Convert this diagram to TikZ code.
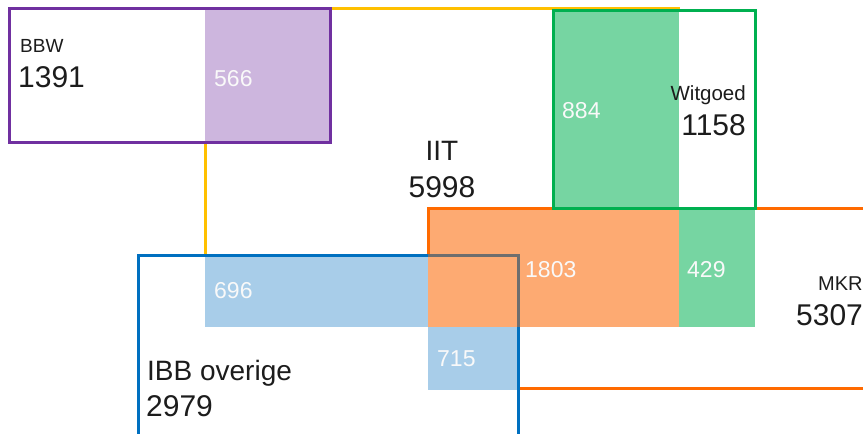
\documentclass[tikz,border=0pt]{standalone}
\usepackage{fontspec}
\setmainfont{Liberation Sans}
\definecolor{cPurple}{HTML}{7030A0}
\definecolor{cPurpleF}{HTML}{CDB6DE}
\definecolor{cYellow}{HTML}{FFC000}
\definecolor{cGreen}{HTML}{00B050}
\definecolor{cGreenF}{HTML}{76D5A2}
\definecolor{cOrange}{HTML}{FF6A00}
\definecolor{cOrangeF}{HTML}{FDAA72}
\definecolor{cBlue}{HTML}{0070C0}
\definecolor{cBlueF}{HTML}{A8CDE9}
\definecolor{cGray}{HTML}{6E6E6E}
\definecolor{cText}{HTML}{1C1C1C}
\tikzset{
  edge/.style={line width=3pt},
  lbl/.style={inner sep=0pt, text=cText, font=\fontsize{19}{19}\selectfont},
  big/.style={inner sep=0pt, text=cText, font=\fontsize{30}{30}\selectfont},
  mid/.style={inner sep=0pt, text=cText, font=\fontsize{28}{28}\selectfont},
  val/.style={inner sep=0pt, text=white!95!gray, font=\fontsize{23}{23}\selectfont, anchor=base west},
}
\begin{document}
\begin{tikzpicture}[x=1pt,y=-1pt]
\useasboundingbox (0,0) rectangle (863,434);
\clip (0,0) rectangle (863,434);
% yellow IIT outline (visible parts)
\draw[edge, cYellow] (330,8) -- (680,8);
\draw[edge, cYellow] (205,143) -- (205,255);
% fills
\fill[cPurpleF] (205,10) rectangle (329,141);
\fill[cGreenF] (553,10) rectangle (679,208);
\fill[cOrangeF] (428,208) rectangle (679,327);
\fill[cGreenF] (679,208) rectangle (755,327);
\fill[cBlueF] (205,255) rectangle (428,327);
\fill[cBlueF] (428,327) rectangle (518,390);
% orange MKR outline
\draw[edge, cOrange] (880,208) -- (428,208) -- (428,255);
\draw[edge, cOrange] (518,388.5) -- (880,388.5);
% green Witgoed outline
\draw[edge, cGreen] (553.5,10) rectangle (755,208);
% purple BBW outline
\draw[edge, cPurple] (9.5,8.5) rectangle (330,142.5);
% blue IBB outline
\draw[edge, cBlue] (138.5,450) -- (138.5,255) -- (428,255);
\draw[edge, cGray] (428,255) -- (518,255) -- (518,327);
\draw[edge, cBlue] (518,327) -- (518,450);
% texts
\node[lbl, anchor=base west] (bbw) at (20,52) {BBW};
\node[big, anchor=base west] (bbwn) at (18,87) {1391};
\node[val] (v566) at (214,86) {566};
\node[val] (v884) at (562,118) {884};
\node[lbl, anchor=base east, font=\fontsize{20.5}{20.5}\selectfont] (wit) at (746,100) {Witgoed};
\node[big, anchor=base east] (witn) at (746,135) {1158};
\node[mid, anchor=base] (iit) at (442,160) {IIT};
\node[big, anchor=base] (iitn) at (442,197) {5998};
\node[val] (v1803) at (525,277) {1803};
\node[val] (v429) at (687,277) {429};
\node[lbl, anchor=base west, font=\fontsize{20}{20}\selectfont] (mkr) at (818,290) {MKR};
\node[big, anchor=base west] (mkrn) at (796,325) {5307};
\node[val] (v696) at (214,298) {696};
\node[val] (v715) at (437,366) {715};
\node[mid, anchor=base west] (ibb) at (147,380) {IBB overige};
\node[big, anchor=base west] (ibbn) at (146,416) {2979};
\end{tikzpicture}
\end{document}
